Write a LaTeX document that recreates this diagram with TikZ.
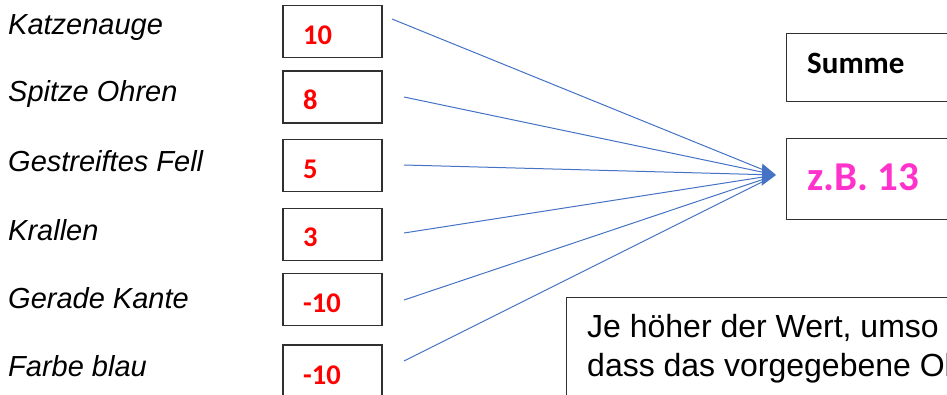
\documentclass[tikz,border=0pt]{standalone}
\usepackage{fontspec}
\setmainfont{Liberation Sans}
\newfontfamily\calfont{Carlito}
\usetikzlibrary{arrows.meta}
\definecolor{linkblue}{HTML}{4472C4}
\definecolor{valred}{HTML}{FF0000}
\definecolor{sumpink}{HTML}{FF33CC}
\definecolor{framegray}{HTML}{303030}

\begin{document}
\begin{tikzpicture}[x=1pt,y=-1pt,
  feat/.style={anchor=base west, inner sep=0pt, font=\fontsize{29}{33}\selectfont\itshape},
  valbox/.style={draw=framegray, line width=1.3pt, minimum width=99pt, minimum height=52pt, inner sep=0pt},
  val/.style={anchor=base west, inner sep=0pt, text=valred, font=\calfont\bfseries\fontsize{28.5}{31}\selectfont},
  bigbox/.style={draw=framegray, line width=1.3pt, anchor=north west, inner sep=0pt},
  notetext/.style={anchor=base west, inner sep=0pt, font=\fontsize{32}{37}\selectfont},
  link/.style={draw=linkblue, line width=1pt},
]
\useasboundingbox (0,0) rectangle (947,394);
\clip (0,0) rectangle (947,394);

% feature names
\node[feat] (f1) at (8,34)  {Katzenauge};
\node[feat] (f2) at (8,101) {Spitze Ohren};
\node[feat] (f3) at (8,171) {Gestreiftes Fell};
\node[feat] (f4) at (8,240) {Krallen};
\node[feat] (f5) at (8,308) {Gerade Kante};
\node[feat] (f6) at (8,376) {Farbe blau};

% weight boxes
\node[valbox] (b1) at (332.5,31.5)  {};
\node[valbox] (b2) at (332.5,97)    {};
\node[valbox] (b3) at (332.5,165.5) {};
\node[valbox] (b4) at (332.5,234.5) {};
\node[valbox] (b5) at (332.5,299.5) {};
\node[valbox] (b6) at (332.5,371)   {};

% weight values
\node[val] (v1) at (303,44)  {10};
\node[val] (v2) at (303,109) {8};
\node[val] (v3) at (303,178) {5};
\node[val] (v4) at (303,246) {3};
\node[val] (v5) at (303,312) {-10};
\node[val] (v6) at (303,384) {-10};

% sum boxes
\node[bigbox, minimum width=180pt, minimum height=68pt] (sumbox) at (786,33) {};
\node[anchor=base west, inner sep=0pt, font=\calfont\bfseries\fontsize{31}{35}\selectfont] (sumlbl) at (807,73) {Summe};
\node[bigbox, minimum width=180pt, minimum height=81pt] (resbox) at (786,138) {};
\node[anchor=base west, inner sep=0pt, text=sumpink, font=\calfont\bfseries\fontsize{41}{46}\selectfont] (reslbl) at (807,190) {z.B. 13};

% explanation box
\node[bigbox, minimum width=400pt, minimum height=120pt] (notebox) at (566,297) {};
\node[notetext] (note1) at (587,337) {Je höher der Wert, umso};
\node[notetext] (note2) at (587,376) {dass das vorgegebene Ob};

% connectors
\coordinate (s1) at (392,19);
\coordinate (s2) at (404,97);
\coordinate (s3) at (404,165);
\coordinate (s4) at (404,233);
\coordinate (s5) at (404,300);
\coordinate (s6) at (404,361);
\coordinate (tip) at (776,175);
\foreach \s in {s1,s2,s4,s5,s6}
  \draw[link, shorten >=8pt] (\s) -- (tip);
\draw[link, -{Triangle[length=14pt,width=22pt]}] (s3) -- (tip);
\end{tikzpicture}
\end{document}
